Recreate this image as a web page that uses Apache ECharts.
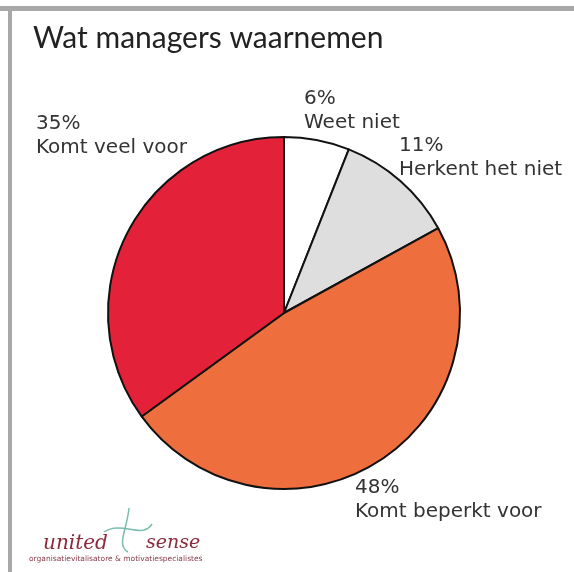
<!DOCTYPE html>
<html>
<head>
<meta charset="utf-8">
<script src="https://cdn.jsdelivr.net/npm/echarts@6/dist/echarts.min.js"></script>
<style>
  html, body { margin: 0; padding: 0; background: #fff; }
  #chart { width: 574px; height: 572px; }
</style>
</head>
<body>
<div id="chart"></div>
<script>
// categories and percentages, clockwise from 12 o'clock
const categories = ['Weet niet', 'Herkent het niet', 'Komt beperkt voor', 'Komt veel voor']
const values = [6, 11, 48, 35]
const colors = ['#ffffff', '#dedede', '#ee6e3d', '#e3223a']

// where each label sits (left, top of the first line)
const labelPos = [[304, 87], [399, 134], [355, 476], [36, 112]]

const chart = echarts.init(document.getElementById('chart'))

const option = {
  animation: false,
  backgroundColor: '#fff',
  title: {
    text: 'Wat managers waarnemen',
    left: 28,
    top: 18,
    textStyle: { fontFamily: 'Lato', fontWeight: 'normal', fontSize: 30, color: '#222' }
  },
  graphic: [
    // grey frame, top and left
    { type: 'rect', shape: { x: 0, y: 6, width: 574, height: 5 }, style: { fill: '#a8a8a8' } },
    { type: 'rect', shape: { x: 8, y: 6, width: 4, height: 566 }, style: { fill: '#a8a8a8' } },
    // logo
    { type: 'bezierCurve', shape: { x1: 104, y1: 532, x2: 152, y2: 524, cpx1: 122, cpy1: 520, cpx2: 142, cpy2: 540 },
      style: { stroke: '#7bbcae', lineWidth: 1.5, fill: null } },
    { type: 'bezierCurve', shape: { x1: 129, y1: 508, x2: 128, y2: 552, cpx1: 127, cpy1: 530, cpx2: 116, cpy2: 545 },
      style: { stroke: '#7bbcae', lineWidth: 1.5, fill: null } },
    { type: 'text', left: 43, top: 534,
      style: { text: 'united', font: 'italic 20px "DejaVu Serif"', fill: '#8a2a3a' } },
    { type: 'text', left: 146, top: 534,
      style: { text: 'sense', font: 'italic 19px "DejaVu Serif"', fill: '#8a2a3a' } },
    { type: 'text', left: 29, top: 555,
      style: { text: 'organisatievitalisatore & motivatiespecialistes', font: '7.5px "DejaVu Sans"', fill: '#8a3a4a' } }
  ],
  series: [
    {
      type: 'pie',
      center: [284, 313],
      radius: 176,
      startAngle: 90,
      clockwise: true,
      silent: true,
      itemStyle: { borderColor: '#111', borderWidth: 2 },
      label: {
        show: true,
        position: 'outside',
        formatter: p => p.value + '%\n' + p.name,
        fontFamily: 'DejaVu Sans',
        fontSize: 20,
        lineHeight: 24,
        color: '#333',
        overflow: 'none'
      },
      labelLine: { show: false },
      labelLayout: p => ({
        x: labelPos[p.dataIndex][0],
        y: labelPos[p.dataIndex][1],
        align: 'left',
        verticalAlign: 'top'
      }),
      data: categories.map((name, i) => ({
        name: name,
        value: values[i],
        itemStyle: { color: colors[i] }
      }))
    }
  ]
}

chart.setOption(option)
</script>
</body>
</html>
